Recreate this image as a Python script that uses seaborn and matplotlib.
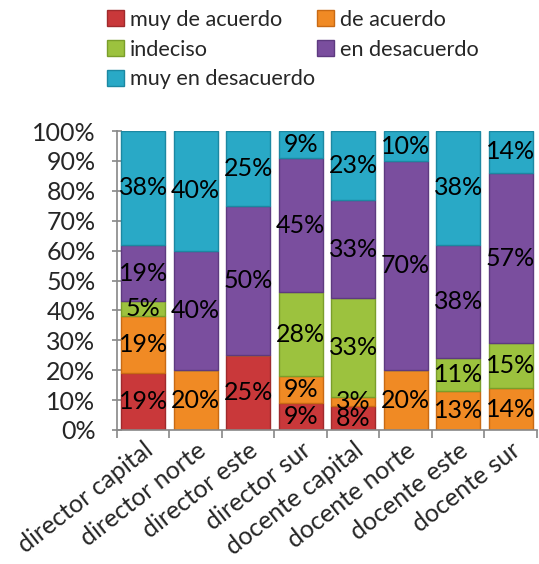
import matplotlib
matplotlib.use("Agg")
import matplotlib.pyplot as plt
import matplotlib.patches as mpatches
from matplotlib.ticker import FixedLocator, PercentFormatter
import numpy as np
import pandas as pd
import seaborn as sns

categories = ["director capital", "director norte", "director este", "director sur",
              "docente capital", "docente norte", "docente este", "docente sur"]
series_names = ["muy de acuerdo", "de acuerdo", "indeciso", "en desacuerdo", "muy en desacuerdo"]
muy_de_acuerdo = [19, 0, 25, 9, 8, 0, 0, 0]
de_acuerdo = [19, 20, 0, 9, 3, 20, 13, 14]
indeciso = [5, 0, 0, 28, 33, 0, 11, 15]
en_desacuerdo = [19, 40, 50, 45, 33, 70, 38, 57]
muy_en_desacuerdo = [38, 40, 25, 9, 23, 10, 38, 14]
colors = ["#C9383A", "#F08A24", "#9CC23E", "#7A4E9E", "#29A9C6"]
edge_colors = ["#A02A2C", "#C86A14", "#7A9E2A", "#5E3A80", "#1C88A2"]

sns.set_theme(style="white")
plt.rcParams["font.family"] = ["Lato", "DejaVu Sans"]

fig = plt.figure(figsize=(5.39, 5.64), dpi=100)
ax = fig.add_axes([0.217, 0.2376, 0.779, 0.530])

all_series = [muy_de_acuerdo, de_acuerdo, indeciso, en_desacuerdo, muy_en_desacuerdo]
bottom = np.zeros(len(categories))
for name, vals, c, ec in zip(series_names, all_series, colors, edge_colors):
    df = pd.DataFrame({"cat": categories, "val": vals})
    sns.barplot(data=df, x="cat", y="val", order=categories, color=c, width=0.84,
                bottom=bottom.copy(), edgecolor=ec, linewidth=1.0, saturation=1,
                errorbar=None, ax=ax)
    cont = ax.containers[-1]
    labels = [f"{v}%" if v > 0 else "" for v in vals]
    ax.bar_label(cont, labels=labels, label_type="center", fontsize=18, color="black")
    bottom += np.array(vals)

ax.set_ylim(0, 100)
ax.set_xlim(-0.5, 7.5)
ax.set_yticks(np.arange(0, 101, 10))
ax.yaxis.set_major_formatter(PercentFormatter(decimals=0))
ax.tick_params(axis="y", labelsize=18, length=7, direction="inout", color="#888888",
               left=True, width=1.2, pad=12)
ax.set_xticks(range(len(categories)))
ax.set_xticklabels(categories, rotation=38, ha="right", rotation_mode="anchor", fontsize=18)
ax.tick_params(axis="x", which="major", length=0, pad=6)
ax.xaxis.set_minor_locator(FixedLocator(np.arange(-0.5, 8, 1)))
ax.tick_params(axis="x", which="minor", length=6, direction="out", color="#888888",
               bottom=True, width=1.2)
ax.set_xlabel("")
ax.set_ylabel("")
for s in ["top", "right"]:
    ax.spines[s].set_visible(False)
for s in ["left", "bottom"]:
    ax.spines[s].set_color("#888888")
    ax.spines[s].set_linewidth(1.2)

handles = [mpatches.Patch(facecolor=c, edgecolor=ec) for c, ec in zip(colors, edge_colors)]
order = [0, 2, 4, 1, 3]
fig.legend([handles[i] for i in order], [series_names[i] for i in order],
           loc="upper left", bbox_to_anchor=(0.183, 0.998), ncol=2, frameon=False,
           fontsize=15.6, handlelength=0.75, handleheight=0.75, handletextpad=0.3,
           columnspacing=0.1, labelspacing=0.45, borderaxespad=0)

fig.savefig("out.png", dpi=100)
